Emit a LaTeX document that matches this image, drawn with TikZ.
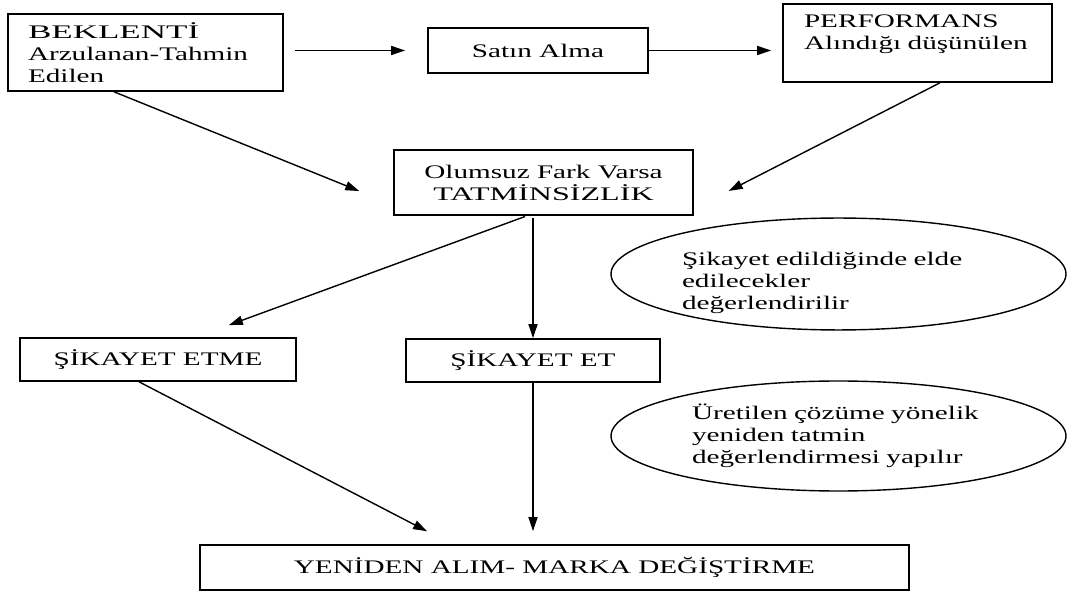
\documentclass[tikz,border=0pt]{standalone}
\usepackage{fontspec}
\usepackage{graphicx}
\setmainfont{Liberation Serif}[FakeStretch=1.52]
\usetikzlibrary{arrows.meta,shapes.geometric,calc}

\newcommand{\genis}[2]{\scalebox{#1}[1]{#2}}

\tikzset{
    kutu/.style={draw, rectangle, line width=0.8pt, inner sep=0pt, align=center,
        font=\fontsize{9.6}{11}\selectfont},
    solkutu/.style={kutu, align=left, inner xsep=10pt},
    balon/.style={draw, ellipse, line width=0.7pt, inner sep=0pt, align=left,
        font=\fontsize{9.6}{11}\selectfont},
    ok/.style={-{Triangle[length=7pt,width=4.5pt]}, line width=0.7pt}
}

\begin{document}
\begin{tikzpicture}[x=0.5pt, y=-0.5pt]
    \useasboundingbox (0,0) rectangle (1067,593);

    \node[solkutu, text width=117.5pt, minimum width=137.5pt, minimum height=38.5pt] (bek) at (145.5,52.5)
        {\genis{1.2}{BEKLENTİ}\\Arzulanan-Tahmin\\Edilen};
    \node[kutu, minimum width=110pt, minimum height=22.5pt] (satin) at (538,50.5) {Satın Alma};
    \node[solkutu, inner xsep=10.5pt, text width=113.5pt, minimum width=134.5pt, minimum height=39pt] (perf) at (917.5,43)
        {PERFORMANS\\Alındığı düşünülen\\\mbox{}};
    \node[kutu, minimum width=149.5pt, minimum height=32.5pt] (olumsuz) at (543.5,182.5)
        {Olumsuz Fark Varsa\\\genis{1.1}{TATMİNSİZLİK}};
    \node[kutu, minimum width=138pt, minimum height=21.5pt] (etme) at (158,359.5) {ŞİKAYET ETME};
    \node[kutu, minimum width=127pt, minimum height=21.5pt] (et) at (533,360.5) {ŞİKAYET ET};
    \node[kutu, minimum width=354.5pt, minimum height=22.5pt] (yeniden) at (554.5,567.5)
        {YENİDEN ALIM- MARKA DEĞİŞTİRME};

    \node[balon, text width=156.5pt, minimum width=227.5pt, minimum height=50pt] (degerlendir) at (838.5,274)
        {\rule{0pt}{15.5pt}Şikayet edildiğinde elde\\edilecekler\\değerlendirilir};
    \node[balon, text width=146.5pt, minimum width=227.5pt, minimum height=55pt] (cozum) at (838.5,436)
        {Üretilen çözüme yönelik\\yeniden tatmin\\değerlendirmesi yapılır};

    \draw[ok, shorten <=5.5pt, shorten >=11pt] (satin.west -| bek.east) -- (satin.west);
    \draw[ok, shorten >=5.5pt] (satin.east) -- (satin.east -| perf.west);
    \draw[ok, shorten >=18.3pt] ($(bek.south)+(-15.75pt,0)$) -- ($(olumsuz.south west)+(0,5.5pt)$);
    \draw[ok, shorten >=19.6pt] ($(perf.south)+(11.25pt,0)$) -- ($(olumsuz.south east)+(0,3.5pt)$);
    \draw[ok, shorten <=1pt, shorten >=17.5pt] ($(olumsuz.south)+(-8.25pt,0)$) -- ($(etme.north)+(19pt,0)$);
    \draw[ok, shorten <=1pt] (et.north |- olumsuz.south) -- (et.north);
    \draw[ok, shorten >=14pt] ($(etme.south)+(-9.5pt,0)$) -- ($(yeniden.north)+(-51.25pt,0)$);
    \draw[ok, shorten >=6.5pt] (et.south) -- (et.south |- yeniden.north);
\end{tikzpicture}
\end{document}
